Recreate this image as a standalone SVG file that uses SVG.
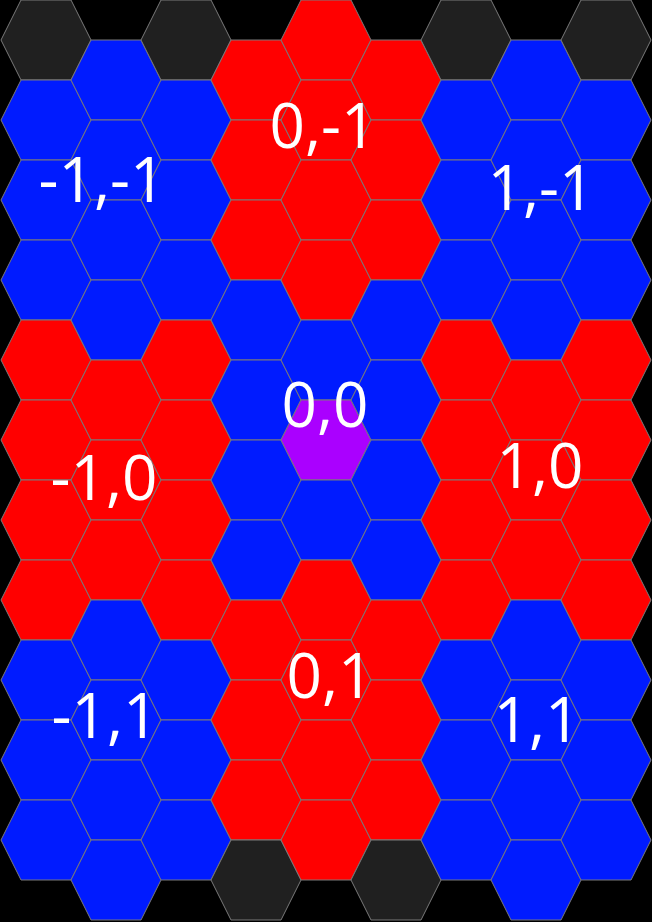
<svg xmlns="http://www.w3.org/2000/svg" xmlns:xlink="http://www.w3.org/1999/xlink" width="652" height="922" viewBox="0 0 652 922">
<style>
.b{fill:#001bff}.r{fill:#ff0000}.d{fill:#202020}.p{fill:#aa00ff}
use{stroke:#7a7a7a;stroke-width:1}
.lbl{font-family:"Open Sans","Noto Sans","Liberation Sans",sans-serif;font-size:62px;fill:#ffffff;text-anchor:middle}
</style>
<defs>
<polygon id="hx" points="-45,0 -25,-40 25,-40 45,0 25,40 -25,40"/>
</defs>
<rect width="652" height="922" fill="#000"/>
<g id="cells">
<g id="c0r0"><use href="#hx" x="46" y="40" class="d"/></g>
<g id="c0r1"><use href="#hx" x="46" y="120" class="b"/></g>
<g id="c0r2"><use href="#hx" x="46" y="200" class="b"/></g>
<g id="c0r3"><use href="#hx" x="46" y="280" class="b"/></g>
<g id="c0r4"><use href="#hx" x="46" y="360" class="r"/></g>
<g id="c0r5"><use href="#hx" x="46" y="440" class="r"/></g>
<g id="c0r6"><use href="#hx" x="46" y="520" class="r"/></g>
<g id="c0r7"><use href="#hx" x="46" y="600" class="r"/></g>
<g id="c0r8"><use href="#hx" x="46" y="680" class="b"/></g>
<g id="c0r9"><use href="#hx" x="46" y="760" class="b"/></g>
<g id="c0r10"><use href="#hx" x="46" y="840" class="b"/></g>

<g id="c1r0"><use href="#hx" x="116" y="80" class="b"/></g>
<g id="c1r1"><use href="#hx" x="116" y="160" class="b"/></g>
<g id="c1r2"><use href="#hx" x="116" y="240" class="b"/></g>
<g id="c1r3"><use href="#hx" x="116" y="320" class="b"/></g>
<g id="c1r4"><use href="#hx" x="116" y="400" class="r"/></g>
<g id="c1r5"><use href="#hx" x="116" y="480" class="r"/></g>
<g id="c1r6"><use href="#hx" x="116" y="560" class="r"/></g>
<g id="c1r7"><use href="#hx" x="116" y="640" class="b"/></g>
<g id="c1r8"><use href="#hx" x="116" y="720" class="b"/></g>
<g id="c1r9"><use href="#hx" x="116" y="800" class="b"/></g>
<g id="c1r10"><use href="#hx" x="116" y="880" class="b"/></g>

<g id="c2r0"><use href="#hx" x="186" y="40" class="d"/></g>
<g id="c2r1"><use href="#hx" x="186" y="120" class="b"/></g>
<g id="c2r2"><use href="#hx" x="186" y="200" class="b"/></g>
<g id="c2r3"><use href="#hx" x="186" y="280" class="b"/></g>
<g id="c2r4"><use href="#hx" x="186" y="360" class="r"/></g>
<g id="c2r5"><use href="#hx" x="186" y="440" class="r"/></g>
<g id="c2r6"><use href="#hx" x="186" y="520" class="r"/></g>
<g id="c2r7"><use href="#hx" x="186" y="600" class="r"/></g>
<g id="c2r8"><use href="#hx" x="186" y="680" class="b"/></g>
<g id="c2r9"><use href="#hx" x="186" y="760" class="b"/></g>
<g id="c2r10"><use href="#hx" x="186" y="840" class="b"/></g>

<g id="c3r0"><use href="#hx" x="256" y="80" class="r"/></g>
<g id="c3r1"><use href="#hx" x="256" y="160" class="r"/></g>
<g id="c3r2"><use href="#hx" x="256" y="240" class="r"/></g>
<g id="c3r3"><use href="#hx" x="256" y="320" class="b"/></g>
<g id="c3r4"><use href="#hx" x="256" y="400" class="b"/></g>
<g id="c3r5"><use href="#hx" x="256" y="480" class="b"/></g>
<g id="c3r6"><use href="#hx" x="256" y="560" class="b"/></g>
<g id="c3r7"><use href="#hx" x="256" y="640" class="r"/></g>
<g id="c3r8"><use href="#hx" x="256" y="720" class="r"/></g>
<g id="c3r9"><use href="#hx" x="256" y="800" class="r"/></g>
<g id="c3r10"><use href="#hx" x="256" y="880" class="d"/></g>

<g id="c4r0"><use href="#hx" x="326" y="40" class="r"/></g>
<g id="c4r1"><use href="#hx" x="326" y="120" class="r"/></g>
<g id="c4r2"><use href="#hx" x="326" y="200" class="r"/></g>
<g id="c4r3"><use href="#hx" x="326" y="280" class="r"/></g>
<g id="c4r4"><use href="#hx" x="326" y="360" class="b"/></g>
<g id="c4r5"><use href="#hx" x="326" y="440" class="p"/></g>
<g id="c4r6"><use href="#hx" x="326" y="520" class="b"/></g>
<g id="c4r7"><use href="#hx" x="326" y="600" class="r"/></g>
<g id="c4r8"><use href="#hx" x="326" y="680" class="r"/></g>
<g id="c4r9"><use href="#hx" x="326" y="760" class="r"/></g>
<g id="c4r10"><use href="#hx" x="326" y="840" class="r"/></g>

<g id="c5r0"><use href="#hx" x="396" y="80" class="r"/></g>
<g id="c5r1"><use href="#hx" x="396" y="160" class="r"/></g>
<g id="c5r2"><use href="#hx" x="396" y="240" class="r"/></g>
<g id="c5r3"><use href="#hx" x="396" y="320" class="b"/></g>
<g id="c5r4"><use href="#hx" x="396" y="400" class="b"/></g>
<g id="c5r5"><use href="#hx" x="396" y="480" class="b"/></g>
<g id="c5r6"><use href="#hx" x="396" y="560" class="b"/></g>
<g id="c5r7"><use href="#hx" x="396" y="640" class="r"/></g>
<g id="c5r8"><use href="#hx" x="396" y="720" class="r"/></g>
<g id="c5r9"><use href="#hx" x="396" y="800" class="r"/></g>
<g id="c5r10"><use href="#hx" x="396" y="880" class="d"/></g>

<g id="c6r0"><use href="#hx" x="466" y="40" class="d"/></g>
<g id="c6r1"><use href="#hx" x="466" y="120" class="b"/></g>
<g id="c6r2"><use href="#hx" x="466" y="200" class="b"/></g>
<g id="c6r3"><use href="#hx" x="466" y="280" class="b"/></g>
<g id="c6r4"><use href="#hx" x="466" y="360" class="r"/></g>
<g id="c6r5"><use href="#hx" x="466" y="440" class="r"/></g>
<g id="c6r6"><use href="#hx" x="466" y="520" class="r"/></g>
<g id="c6r7"><use href="#hx" x="466" y="600" class="r"/></g>
<g id="c6r8"><use href="#hx" x="466" y="680" class="b"/></g>
<g id="c6r9"><use href="#hx" x="466" y="760" class="b"/></g>
<g id="c6r10"><use href="#hx" x="466" y="840" class="b"/></g>

<g id="c7r0"><use href="#hx" x="536" y="80" class="b"/></g>
<g id="c7r1"><use href="#hx" x="536" y="160" class="b"/></g>
<g id="c7r2"><use href="#hx" x="536" y="240" class="b"/></g>
<g id="c7r3"><use href="#hx" x="536" y="320" class="b"/></g>
<g id="c7r4"><use href="#hx" x="536" y="400" class="r"/></g>
<g id="c7r5"><use href="#hx" x="536" y="480" class="r"/></g>
<g id="c7r6"><use href="#hx" x="536" y="560" class="r"/></g>
<g id="c7r7"><use href="#hx" x="536" y="640" class="b"/></g>
<g id="c7r8"><use href="#hx" x="536" y="720" class="b"/></g>
<g id="c7r9"><use href="#hx" x="536" y="800" class="b"/></g>
<g id="c7r10"><use href="#hx" x="536" y="880" class="b"/></g>

<g id="c8r0"><use href="#hx" x="606" y="40" class="d"/></g>
<g id="c8r1"><use href="#hx" x="606" y="120" class="b"/></g>
<g id="c8r2"><use href="#hx" x="606" y="200" class="b"/></g>
<g id="c8r3"><use href="#hx" x="606" y="280" class="b"/></g>
<g id="c8r4"><use href="#hx" x="606" y="360" class="r"/></g>
<g id="c8r5"><use href="#hx" x="606" y="440" class="r"/></g>
<g id="c8r6"><use href="#hx" x="606" y="520" class="r"/></g>
<g id="c8r7"><use href="#hx" x="606" y="600" class="r"/></g>
<g id="c8r8"><use href="#hx" x="606" y="680" class="b"/></g>
<g id="c8r9"><use href="#hx" x="606" y="760" class="b"/></g>
<g id="c8r10"><use href="#hx" x="606" y="840" class="b"/></g>
</g>
<g id="connectors"></g>
<g id="labels">
<text class="lbl" x="102" y="202">-1,-1</text>
<text class="lbl" x="323" y="148">0,-1</text>
<text class="lbl" x="541" y="210">1,-1</text>
<text class="lbl" x="104" y="500">-1,0</text>
<text class="lbl" x="325" y="427">0,0</text>
<text class="lbl" x="540" y="488">1,0</text>
<text class="lbl" x="105" y="738">-1,1</text>
<text class="lbl" x="330" y="698">0,1</text>
<text class="lbl" x="537" y="742">1,1</text>
</g>
</svg>
